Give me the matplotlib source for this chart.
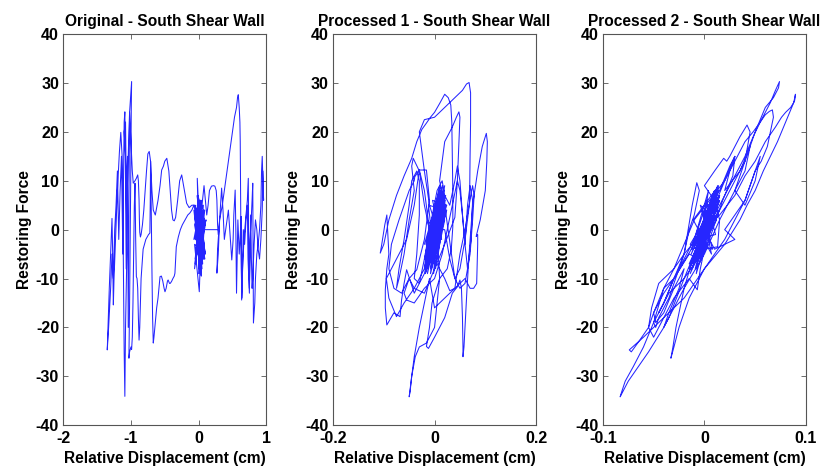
import matplotlib
matplotlib.use("Agg")
import matplotlib.pyplot as plt

plt.rcParams['font.family'] = ['Liberation Sans', 'DejaVu Sans']
plt.rcParams['font.weight'] = 'bold'
plt.rcParams['axes.unicode_minus'] = False

titles = ["Original - South Shear Wall", "Processed 1 - South Shear Wall", "Processed 2 - South Shear Wall"]
xlabel = "Relative Displacement (cm)"
ylabel = "Restoring Force"
xlims = [(-2, 1), (-0.2, 0.2), (-0.1, 0.1)]
xticks = [[-2, -1, 0, 1], [-0.2, 0, 0.2], [-0.1, 0, 0.1]]
xticklabels = [["-2", "-1", "0", "1"], ["-0.2", "0", "0.2"], ["-0.1", "0", "0.1"]]
yticks = [-40, -30, -20, -10, 0, 10, 20, 30, 40]

# ---------- Panel 1 (original) ----------
p1_core_x = [0.00, 0.04, -0.03, 0.06, -0.05, 0.02, 0.08, -0.02, 0.05, -0.06, 0.03, 0.10, -0.01, 0.07, -0.04,
             0.01, 0.09, -0.07, 0.04, 0.00, 0.06, -0.03, 0.11, 0.02, -0.05, 0.05, 0.08, -0.02, 0.03, -0.06,
             0.07, 0.00, 0.04, -0.04, 0.09, 0.01, -0.03, 0.06, 0.02, -0.07, 0.05, 0.10, -0.01, 0.03, -0.05,
             0.08, 0.00, 0.05, -0.02, 0.07, 0.02, -0.04, 0.06, 0.01, 0.09, -0.03, 0.04, 0.00, -0.02, 0.03,
             -0.06, 0.01, 0.05, -0.03, 0.02, -0.01, 0.04, 0.00]
p1_core_y = [0, 4, -5, 2, -6, 6, -3, 5, -8, 3, -4, 1, 7, -6, 2,
             -7, 4, -2, 6, -9, 3, -5, 2, -3, 5, -7, 0, 4, -6, 1,
             5, -8, 3, -2, -6, 6, -4, 2, -7, 4, -1, -5, 5, -8, 3,
             -3, 6, -4, 2, -6, 5, -1, -7, 4, 2, -5, 3, -2, 10.5, -4,
             -3, -12.7, 4, 1, -9, 3, -9.5, 0]
p1_core2_x = [0.01, -0.04, 0.05, -0.02, 0.07, -0.05, 0.03, 0.00, 0.08, -0.03, 0.04, -0.06, 0.02, 0.06,
              -0.01, 0.09, -0.04, 0.01, 0.05, -0.02, 0.03, 0.07, -0.05, 0.00, 0.04, -0.03, 0.06, 0.02,
              -0.01, 0.08, 0.03, -0.04, 0.05, 0.00]
p1_core2_y = [3, -6, 5, -4, 2, -7, 6, -3, 4, -5, 1, -8, 6, -2, 5, -6, 3, -1, -7, 7, -4, 4, -2, 6, -8,
              2, -5, 5, -3, 1, -6, 4, -2, 0]
p1_x = [0.00, 0.06, 0.12, 0.20, 0.30, 0.28, 0.27, 0.29, 0.31, 0.34, 0.36, 0.38, 0.41, 0.44, 0.46,
        0.49, 0.51, 0.52, 0.54, 0.55, 0.56, 0.57, 0.58, 0.60, 0.62, 0.63, 0.636, 0.65, 0.67, 0.70,
        0.72, 0.734, 0.74, 0.75, 0.76, 0.78, 0.79, 0.80, 0.805, 0.81, 0.83, 0.84, 0.86, 0.88, 0.90,
        0.92, 0.93, 0.94, 0.95, 0.96, 0.95, 0.94, 0.92, 0.90, 0.88, 0.86, 0.84, 0.82, 0.80, 0.79,
        0.78, 0.77, 0.75, 0.73, 0.72, 0.70, 0.68, 0.66, 0.645, 0.64, 0.63, 0.625, 0.62, 0.615, 0.61,
        0.60, 0.59, 0.586, 0.575, 0.56, 0.53, 0.50, 0.45, 0.40, 0.35, 0.31, 0.29, 0.28, 0.27, 0.26,
        0.24, 0.22, 0.19, 0.16, 0.14, 0.12, 0.10, 0.08, 0.05, 0.02, -0.02, -0.06, -0.10, -0.14,
        -0.177, -0.21, -0.25, -0.28, -0.31, -0.34, -0.36, -0.38, -0.40, -0.42, -0.44, -0.47, -0.50,
        -0.52, -0.546, -0.57, -0.60, -0.64, -0.67, -0.69, -0.71, -0.73, -0.75, -0.77, -0.79, -0.81,
        -0.83, -0.85, -0.86, -0.87, -0.875, -0.88, -0.89, -0.90, -0.92, -0.94, -0.966, -0.98, -1.00,
        -1.02, -1.03, -1.05, -1.06, -1.08, -1.10, -1.08, -1.07, -1.06, -1.08, -1.09, -1.10, -1.11,
        -1.12, -1.13, -1.15, -1.17, -1.20, -1.23, -1.25, -1.26, -1.27, -1.28, -1.30, -1.32, -1.35,
        -1.33, -1.30, -1.28, -1.26, -1.24, -1.22, -1.20, -1.19, -1.18, -1.16, -1.14, -1.13, -1.12,
        -1.11, -1.10, -1.09, -1.08, -1.07, -1.06, -1.05, -1.04, -1.03, -1.02, -1.01, -1.00, -0.99,
        -0.995, -1.00, -1.01, -1.02, -1.03, -1.02, -1.00, -0.99, -0.98, -0.97, -0.96, -0.95, -0.94,
        -0.93, -0.92, -0.91, -0.90, -0.89, -0.88, -0.87, -0.85, -0.82, -0.78, -0.74, -0.72, -0.715,
        -0.71, -0.70, -0.69, -0.68, -0.67, -0.66, -0.64, -0.62, -0.60, -0.58, -0.57, -0.55, -0.53,
        -0.51, -0.497, -0.48, -0.46, -0.45, -0.43, -0.42, -0.40, -0.38, -0.36, -0.35, -0.34, -0.33,
        -0.32, -0.30, -0.27, -0.24, -0.20, -0.16, -0.13, -0.10, -0.07, -0.04, -0.02, 0.00]
p1_y = [0.0, 0.0, 0.0, 0.0, 0.0, -4.0, -8.9, -5.0, 2.0, 8.5, 4.0, -2.0, 1.0, 4.0, 0.0,
        -6.2, -2.0, 3.0, 8.1, 0.0, -13.0, -5.0, 2.0, -5.0, 0.0, 2.7, -14.4, -8.0, -2.0, 3.0,
        6.0, 10.5, -3.0, -12.0, -2.0, 3.0, 6.0, 9.5, -5.0, -19.1, -15.0, -10.0, -5.0, -3.0, 0.0,
        5.0, 12.0, 15.0, 10.0, 6.0, 12.0, 4.0, -2.0, -6.0, -4.0, 0.0, 2.0, -3.0, -10.0, -12.0,
        -6.0, 3.0, -13.0, -6.0, 5.0, 2.0, -3.0, 0.0, -10.0, -14.0, -8.0, -2.0, 8.0, 18.0, 22.0,
        25.0, 27.0, 27.6, 27.0, 25.0, 23.0, 20.0, 15.0, 10.0, 5.0, 2.0, -1.0, 1.0, 6.0, 8.0,
        8.9, 9.0, 8.9, 8.0, 5.0, 3.0, 6.0, 9.0, 5.0, 3.0, 4.0, 5.0, 5.0, 4.5,
        5.4, 8.0, 11.2, 10.0, 6.0, 2.5, 1.8, 2.0, 4.0, 8.0, 12.0, 14.6, 14.0,
        13.0, 12.2, 9.0, 6.0, 3.0, 4.0, 8.0, 14.0, 16.0, 15.5, 12.0, 8.0, 4.0,
        1.0, -1.0, -1.5, -0.5, 2.0, 6.0, 10.0, 11.2, 10.5, 10.0, 9.5, 12.0, 18.0,
        24.0, 20.0, 10.0, 5.0, 15.0, 20.0, 22.0, 10.0, -5.0, -20.0, -34.1, -25.0, -10.0,
        5.0, 15.0, 19.9, 16.0, 8.0, -3.0, -10.0, -15.4, -5.0, 2.3, -5.0, -12.0, -24.6,
        -20.0, -12.0, -5.0, -10.0, 0.0, 5.0, 12.0, 5.0, -2.0, 8.0, 15.0, 5.0, -5.0,
        10.0, 22.0, 24.1, 10.0, -8.0, 6.0, 15.0, -20.0, 5.0, 24.0, 26.0, 28.0, 30.3,
        25.0, 15.0, 0.0, -15.0, -26.3, -25.0, -24.0, -24.5, -22.0, -15.0, -5.0, 5.0, 9.5,
        -2.0, -9.6, -10.0, -12.0, -18.0, -22.6, -20.0, -10.0, -4.0, -2.0, -1.0, -0.7, 5.0,
        14.0, 4.0, -8.0, -18.0, -23.2, -22.0, -19.0, -16.0, -14.0, -11.0, -9.6, -9.5, -10.5,
        -12.0, -12.7, -12.0, -10.5, -10.3, -11.0, -11.0, -10.6, -10.0, -9.5, -8.9, -6.0, -3.5,
        -2.8, -1.5, 0.0, 1.0, 2.0, 3.0, 3.4, 4.0, 5.0, 3.0, 1.0, 0.0]

# ---------- Panel 2 (processed 1) ----------
p2_core_x = [0.000, 0.012, -0.010, 0.018, -0.015, 0.005, 0.022, -0.018, 0.010, -0.005, 0.020, -0.012,
             0.015, -0.020, 0.008, 0.024, -0.008, 0.002, 0.016, -0.016, 0.012, -0.002, 0.020, -0.010,
             0.006, -0.018, 0.014, 0.000, -0.014, 0.018, -0.006, 0.010, -0.012, 0.022, 0.004, -0.016,
             0.008, -0.004, 0.016, -0.010, 0.012, -0.020, 0.006, 0.020, -0.008, 0.002, 0.014, -0.013,
             0.019, -0.003, 0.009, -0.017, 0.003, 0.021, -0.009, 0.000]
p2_core_y = [0, 6, -5, 8, -7, -1, 7, -9, 3, -6, 9, -4, 4, -8, 6, 5, -6, 3, 2, -7, 8, -5, 4, -2,
             6, -5, 1, 4, -9, 6, -3, 7, -2, 3, 5, -4, -3, -7, 9, 0, 2, -6, 5, 3, -8, 1, 7, -6,
             5, -4, 8, -3, -6, 6, -1, 0]
p2_core2_x = [-0.015, 0.020, -0.005, 0.012, -0.018, 0.016, 0.002, -0.012, 0.024, -0.008, 0.008, -0.020,
              0.018, 0.000, -0.014, 0.014, -0.004, 0.022, -0.010, 0.010, -0.016, 0.006, 0.018, -0.006,
              0.004, -0.018, 0.012, -0.002, 0.020, -0.012, 0.000]
p2_core2_y = [-8, 7, -4, 9, -6, 3, -8, 5, 4, -9, 7, -3, 8, -6, 2, -2, 6, 5, -7, 9, -4, -6, 3, -8,
              5, -5, 8, -9, 2, -3, 0]
p2_x = [0.000, -0.020, -0.040, -0.055, -0.060, -0.065, -0.068, -0.080, -0.094, -0.097, -0.097, -0.094,
        -0.090, -0.094, -0.098, -0.104, -0.107, -0.100, -0.090, -0.075, -0.060, -0.045, -0.035, -0.025,
        -0.016, -0.008, 0.000, 0.010, 0.020, 0.027, 0.032, 0.034, 0.035, 0.036, 0.036, 0.033, 0.025,
        0.010, -0.005, -0.010, -0.016, -0.012, 0.000, 0.020, 0.035, 0.045, 0.050, 0.053, 0.055, 0.056,
        0.056, 0.058, 0.060, 0.064, 0.068, 0.075, 0.085, 0.094, 0.100, 0.102, 0.104, 0.103, 0.100,
        0.090, 0.082, 0.085, 0.085, 0.084, 0.083, 0.077, 0.070, 0.060, 0.040, 0.020, 0.000, -0.010,
        -0.020, -0.030, -0.040, -0.045, -0.050, -0.048, -0.045, -0.038, -0.030, -0.016, 0.000, 0.010,
        0.005, -0.010, -0.020, -0.030, -0.020, 0.000, 0.020, 0.040, 0.055, 0.063, 0.068, 0.071, 0.071,
        0.070, 0.069, 0.060, 0.050, 0.040, 0.020, 0.010, 0.020, 0.035, 0.043, 0.048, 0.050, 0.048,
        0.045, 0.040, 0.020, 0.000, -0.020, -0.040, -0.060, -0.075, -0.090, -0.095, -0.085, -0.070,
        -0.055, -0.040, -0.030, -0.020, -0.010, -0.020, -0.040, -0.050, -0.065, -0.080, -0.090,
        -0.085, -0.070, -0.050, -0.040, -0.039, -0.030, -0.016, -0.010, -0.020, -0.035, -0.050,
        -0.060, -0.055, -0.040, -0.020, 0.000, 0.015, 0.025, 0.035, 0.045, 0.050, 0.055, 0.060,
        0.065, 0.070, 0.075, 0.078, 0.075, 0.068, 0.060, 0.050, 0.040, 0.030, 0.020, 0.000, -0.010,
        -0.020, -0.030, -0.042, -0.045, -0.040, -0.050, -0.060, -0.070, -0.075, -0.070, -0.060,
        -0.050, -0.045, -0.035, -0.030, -0.030, -0.035, -0.040, -0.030, -0.020, -0.010, 0.005, 0.015,
        0.020, 0.030, 0.040, 0.045, 0.050, 0.055, 0.060, 0.065, 0.070, 0.075, 0.072, 0.065, 0.060,
        0.050, 0.040, 0.030, 0.020, 0.000]
p2_y = [0.0, -9.0, -13.0, -8.2, -11.0, -14.4, -17.8, -17.0, -19.5, -16.0, -12.3, -8.0,
        -5.0, 3.0, 1.0, -3.0, -4.8, -3.0, 2.0, 7.0, 11.0, 14.6, 18.0, 20.5,
        21.8, 23.0, 24.0, 25.8, 27.7, 27.0, 25.5, 22.0, 15.0, 8.0, 0.6, -4.0, -8.0,
        -10.0, -15.0, -20.0, -23.9, -24.3, -22.0, -18.0, -13.0, -11.7, -10.3, -12.0, -18.0, -24.0,
        -26.0, -24.0, -20.0, -12.0, -5.0, 5.0, 12.0, 17.0, 19.0, 19.7, 18.0, 14.0, 8.0,
        2.0, -1.4, -1.0, -3.0, -7.0, -11.0, -12.0, -12.0, -10.0, -12.0, -14.0, -16.0, -10.0,
        -15.0, -20.0, -26.0, -30.0, -34.2, -33.0, -30.0, -26.0, -24.0, -23.2, -20.0, -10.0,
        0.0, 5.0, 12.0, 20.0, 22.5, 23.0, 25.0, 27.0, 28.5, 29.8, 30.1, 28.0, 22.0,
        15.0, 5.4, -2.0, -8.0, -10.0, 5.0, 10.0, 18.0, 21.0, 23.0, 24.1, 23.0, 18.0,
        10.0, 2.5, -3.0, -8.0, -13.0, -12.0, -15.0, -17.8, -14.0, -10.0, -8.0, -5.0,
        -2.0, 5.0, 12.2, 8.0, 0.0, -8.0, -12.0, -10.0, -13.0, -12.0, -8.0,
        -3.0, 2.0, 8.0, 10.0, 10.8, 12.2, 12.2, 6.0, -2.0, -8.2, -10.0,
        -13.0, -14.4, -15.0, -12.0, -10.0, -5.0, 0.0, 5.0, 10.0, 8.0, 3.0, -3.0,
        -8.0, -5.0, 2.0, 7.0, 9.0, 5.0, 0.0, -5.0, -12.0, -12.5, -10.0, -6.0, 0.0,
        5.0, 12.0, 14.6, 13.0, 8.0, 2.0, -5.0, -10.0, -12.0, -8.0, -2.0,
        5.0, 10.0, 12.0, 10.0, 3.0, -5.0, -10.0, -11.0, -6.0, 0.0, 8.0, 10.0,
        7.0, 5.0, 10.0, 13.0, 10.0, 3.0, -3.0, 5.0, 9.0, 6.0, -2.0, -8.0, -11.0,
        -12.0, -10.0, -6.0, 0.0, 0.0]

# ---------- Panel 3 (processed 2) ----------
p3_core_x = [0.000, 0.008, -0.006, 0.012, -0.010, 0.014, -0.004, 0.006, -0.012, 0.004, 0.015, -0.008,
             0.002, 0.010, -0.014, 0.012, -0.005, 0.009, -0.010, 0.013, -0.002, 0.005, -0.015, 0.011,
             -0.007, 0.003, 0.014, -0.011, 0.007, -0.003, 0.012, -0.013, 0.001, 0.010, -0.009, 0.006,
             -0.001, 0.015, -0.006, 0.004, -0.012, 0.008, 0.000]
p3_core_y = [0.0, 4.0, -4.0, 7.0, -6.0, 8.0, -3.0, 2.0, -8.0, 0.0, 6.0, -6.0,
             2.0, 5.0, -9.0, 3.0, -2.0, 6.0, -5.0, 9.0, -1.0, 1.0, -7.0, 5.0,
             -4.0, 3.0, 4.0, -7.0, 6.0, -2.0, 8.0, -5.0, 1.0, 3.0, -8.0, 5.0,
             -3.0, 7.0, -1.0, 2.0, -6.0, 4.0, 0.0]
p3_core2_x = [0.006, -0.012, 0.012, -0.004, 0.008, -0.014, 0.015, -0.008, 0.002, 0.011, -0.010, 0.004,
              -0.006, 0.013, -0.015, 0.009, -0.002, 0.007, -0.011, 0.014, -0.005, 0.003, -0.013, 0.010,
              0.000]
p3_core2_y = [6, -7, 2, 5, -4, -3, 7, -9, 6, -1, -2, 8, -6, 5, -8, 1, 4, -5, 2, 9, -7, -3, -4, 7, 0]
p3_x = [0.000, 0.010, 0.020, 0.030, 0.040, 0.048, 0.055, 0.060, 0.065, 0.070, 0.074, 0.073, 0.068,
        0.060, 0.050, 0.040, 0.030, 0.015, 0.000, -0.020, -0.040, -0.055, -0.065, -0.075, -0.080,
        -0.083, -0.082, -0.078, -0.070, -0.060, -0.050, -0.040, -0.020, 0.000, 0.015, 0.030, 0.040,
        0.050, 0.060, 0.070, 0.076, 0.080, 0.085, 0.088, 0.0897, 0.089, 0.086, 0.080, 0.072, 0.065,
        0.058, 0.050, 0.042, 0.035, 0.020, 0.000, -0.020, -0.040, -0.050, -0.060, -0.068, -0.074,
        -0.072, -0.065, -0.055, -0.050, -0.040, -0.030, -0.020, -0.010, 0.005, 0.020, 0.030, 0.040,
        0.048, 0.055, 0.060, 0.064, 0.067, 0.068, 0.065, 0.062, 0.056, 0.050, 0.040, 0.030, 0.020,
        0.010, 0.000, -0.015, -0.025, -0.030, -0.033, -0.031, -0.028, -0.020, -0.010, 0.000, 0.010,
        -0.010, -0.030, -0.040, -0.050, -0.048, -0.045, -0.035, -0.020, -0.012, -0.0075, -0.005,
        -0.010, -0.015, -0.020, -0.030, -0.045, -0.052, -0.055, -0.050, -0.040, -0.030, -0.015,
        -0.007, -0.004, 0.000, 0.013, 0.015, 0.010, 0.000, 0.010, 0.019, 0.022, 0.025, 0.030,
        0.035, 0.042, 0.045, 0.040, 0.030, 0.020, 0.010, 0.000, -0.010, -0.020, -0.035, -0.045,
        -0.040, -0.030, -0.020, -0.010, 0.000, 0.015, 0.025, 0.030, 0.028, 0.018, 0.005, -0.005,
        -0.015, -0.030, -0.040, -0.045, -0.050, -0.048, -0.040, -0.030, -0.020, -0.025, -0.035,
        -0.040, -0.035, -0.020, -0.010, 0.010, 0.020, 0.030, 0.025, 0.020, 0.035, 0.045, 0.040,
        0.030, 0.040, 0.050, 0.055, 0.050, 0.040, 0.020, 0.030, 0.010, 0.000]
p3_y = [0.0, 3.0, 7.0, 11.0, 15.0, 19.0, 22.0, 24.0, 26.0, 28.5, 30.3, 29.0, 27.0,
        25.0, 20.0, 14.0, 8.0, 2.0, -5.0, -12.0, -20.0, -25.0, -28.0, -31.0, -33.0,
        -34.2, -33.5, -31.0, -28.0, -24.0, -19.0, -15.0, -5.0, 0.0, 3.0, 7.0, 11.0,
        14.0, 18.0, 21.0, 23.0, 24.0, 25.0, 26.0, 27.7, 26.5, 25.0, 22.0, 18.0, 15.0,
        12.0, 8.0, 5.0, 2.0, -3.0, -8.0, -14.0, -18.0, -20.0, -22.0, -23.5, -24.6,
        -25.0, -23.0, -20.0, -17.0, -12.0, -8.0, -3.0, 2.0, 6.0, 10.0, 14.0, 18.0,
        20.0, 22.0, 23.5, 24.2, 24.5, 23.0, 20.0, 17.0, 14.0, 12.0, 6.0, 2.0, -2.0,
        -5.0, -8.0, -14.0, -20.0, -24.0, -26.3, -24.0, -20.0, -12.0, -5.0, 2.0, 8.0,
        -3.0, -10.0, -12.0, -19.0, -20.0, -18.0, -14.0, -5.0, 5.0, 9.6, 8.0,
        3.0, 0.0, -5.0, -8.0, -11.0, -16.0, -20.0, -22.0, -18.0, -14.0, -10.0,
        -12.3, -8.0, -4.0, -3.5, 2.0, 6.0, 9.0, 12.0, 14.6, 14.0, 15.0, 17.0,
        19.0, 21.4, 20.0, 14.0, 10.0, 6.0, 2.0, -4.0, -7.0, -10.0, -13.0, -17.0,
        -15.0, -10.0, -6.0, -2.0, 4.0, 8.0, 13.0, 15.0, 11.0, 6.0, -2.0, -6.0,
        -5.0, -10.0, -13.0, -15.0, -17.0, -19.0, -17.0, -12.0, -8.0, -12.0, -17.0,
        -20.0, -18.0, -10.0, -5.0, 5.0, 10.0, 15.0, 12.0, 8.0, 12.0, 17.0, 12.0,
        8.0, 5.0, 10.0, 15.0, 12.0, 6.0, 0.0, -2.0, -4.0, 0.0]

series = [(p1_core_x + p1_core2_x + p1_x, p1_core_y + p1_core2_y + p1_y),
          (p2_core_x + p2_core2_x + p2_x, p2_core_y + p2_core2_y + p2_y),
          (p3_core_x + p3_core2_x + p3_x, p3_core_y + p3_core2_y + p3_y)]

fig = plt.figure(figsize=(8.27, 4.74), dpi=100)
lefts = [0.0765, 0.4027, 0.729]
for i in range(3):
    ax = fig.add_axes([lefts[i], 0.103, 0.2455, 0.825])
    x, y = series[i]
    ax.plot(x, y, color='#0000ff', lw=0.75, alpha=0.85)
    ax.set_xlim(*xlims[i])
    ax.set_ylim(-40, 40)
    ax.set_xticks(xticks[i])
    ax.set_xticklabels(xticklabels[i])
    ax.set_yticks(yticks)
    ax.tick_params(direction='in', top=True, right=True, length=3.5, width=0.6,
                   color='#555555', labelsize=11.5, pad=3)
    ax.tick_params(axis='x', pad=4)
    for lab in ax.get_xticklabels() + ax.get_yticklabels():
        lab.set_fontweight('bold')
    for sp in ax.spines.values():
        sp.set_color('#555555')
        sp.set_linewidth(0.8)
    ax.set_title(titles[i], fontsize=11.2, fontweight='bold', pad=6)
    ax.set_xlabel(xlabel, fontsize=11.2, fontweight='bold', labelpad=4)
    ax.set_ylabel(ylabel, fontsize=11.2, fontweight='bold', labelpad=3)

fig.savefig("out.png", dpi=100)
